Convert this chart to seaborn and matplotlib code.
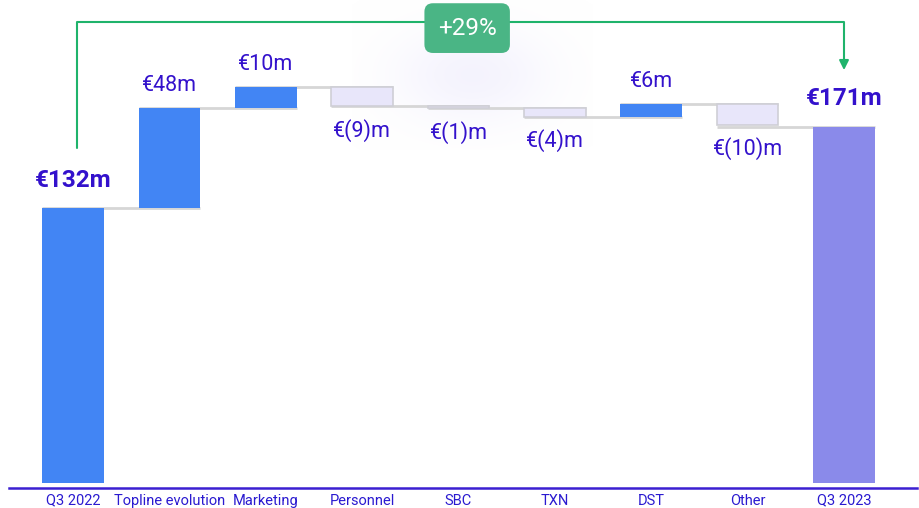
import numpy as np
import pandas as pd
import seaborn as sns
import matplotlib.pyplot as plt
from matplotlib import font_manager

# ---- data ----
categories = ['Q3 2022', 'Topline evolution', 'Marketing', 'Personnel', 'SBC',
              'TXN', 'DST', 'Other', 'Q3 2023']
start_total = 132
changes = [48, 10, -9, -1, -4, 6, -10]
end_total = 171
labels = ['€132m', '€48m', '€10m', '€(9)m', '€(1)m', '€(4)m', '€6m', '€(10)m', '€171m']
growth_label = '+29%'

# ---- waterfall geometry ----
heights, bottoms, levels = [start_total], [0], [start_total]
run = start_total
for c in changes:
    bottoms.append(run if c > 0 else run + c)
    heights.append(abs(c))
    run += c
    levels.append(run)
heights.append(end_total)
bottoms.append(0)
levels[-1] = end_total
levels.append(end_total)

df = pd.DataFrame({'category': categories, 'height': heights, 'bottom': bottoms})

kind = ['total'] + ['up' if c > 0 else 'down' for c in changes] + ['final']
colors = {'total': '#4285f4', 'up': '#4285f4', 'down': '#e8e6fa', 'final': '#8a8aea'}

sns.set_theme(style='white')
plt.rcParams['font.family'] = ['Roboto', 'DejaVu Sans']

installed = {f.name for f in font_manager.fontManager.ttflist}
tick_font = 'Liberation Sans Narrow' if 'Liberation Sans Narrow' in installed else 'Roboto'

fig = plt.figure(figsize=(9.19, 5.08), dpi=100)
ax = fig.add_axes([0, 20 / 508, 1, 488 / 508])

w = 0.64
sns.barplot(data=df, x='category', y='height', bottom=df['bottom'], width=w,
            color='#4285f4', ax=ax, zorder=3, linewidth=0)
for p, k in zip(ax.patches, kind):
    p.set_facecolor(colors[k])
    if k == 'down':
        p.set_edgecolor('#cfcfd6')
        p.set_linewidth(1.2)

# connectors
for i in range(len(categories) - 1):
    ax.plot([i - w / 2, i + 1 + w / 2], [levels[i], levels[i]], color='#d6d6d6',
            lw=2, zorder=1, solid_capstyle='butt')

# value labels
txt_color = '#3311cc'
for i, (lab, k) in enumerate(zip(labels, kind)):
    top = bottoms[i] + heights[i]
    if k in ('total', 'final'):
        ax.annotate(lab, (i, top), xytext=(0, 12), textcoords='offset points',
                    ha='center', va='bottom', fontsize=17.5, fontweight='bold', color=txt_color)
    elif k == 'up':
        ax.annotate(lab, (i, top), xytext=(0, 9), textcoords='offset points',
                    ha='center', va='bottom', fontsize=15.5, color=txt_color)
    else:
        ax.annotate(lab, (i, bottoms[i]), xytext=(0, -9), textcoords='offset points',
                    ha='center', va='top', fontsize=15.5, color=txt_color)

# soft glow behind the growth badge
gx, gy = np.meshgrid(np.linspace(-1, 1, 200), np.linspace(-1, 1, 200))
glow = np.zeros((200, 200, 4))
glow[..., :3] = [0.91, 0.90, 0.99]
glow[..., 3] = 0.45 * np.exp(-2.5 * (gx ** 2 + gy ** 2))
ax.imshow(glow, extent=(2.9, 5.4, 160, 232), aspect='auto', zorder=0)

# growth bracket
green = '#1fb36b'
y_top = 221.5
ax.plot([0.04, 0.04, 8.0, 8.0], [161, y_top, y_top, 202], color=green, lw=1.5, zorder=4)
ax.annotate('', xy=(8.0, 197), xytext=(8.0, 203),
            arrowprops=dict(arrowstyle='-|>', color=green, lw=1.5, mutation_scale=14))
ax.text(4.09, 218.5, growth_label, ha='center', va='center', fontsize=17.5, color='white', zorder=6,
        bbox=dict(boxstyle='round,pad=0.55,rounding_size=0.35', fc='#4ab585', ec='none'))

ax.set_xlim(-0.757, 8.778)
ax.set_ylim(-2.4, 232)
ax.set_xlabel('')
ax.set_ylabel('')
ax.set_yticks([])
ax.tick_params(axis='x', length=0, pad=4, labelsize=10.5, labelcolor='#2a1ad0')
for t in ax.get_xticklabels():
    t.set_family(tick_font)
for s in ['top', 'right', 'left']:
    ax.spines[s].set_visible(False)
ax.spines['bottom'].set_color('#3b1fd1')
ax.spines['bottom'].set_linewidth(1.8)
ax.spines['bottom'].set_bounds(-0.66, 8.76)

fig.savefig('out.png', dpi=100)
